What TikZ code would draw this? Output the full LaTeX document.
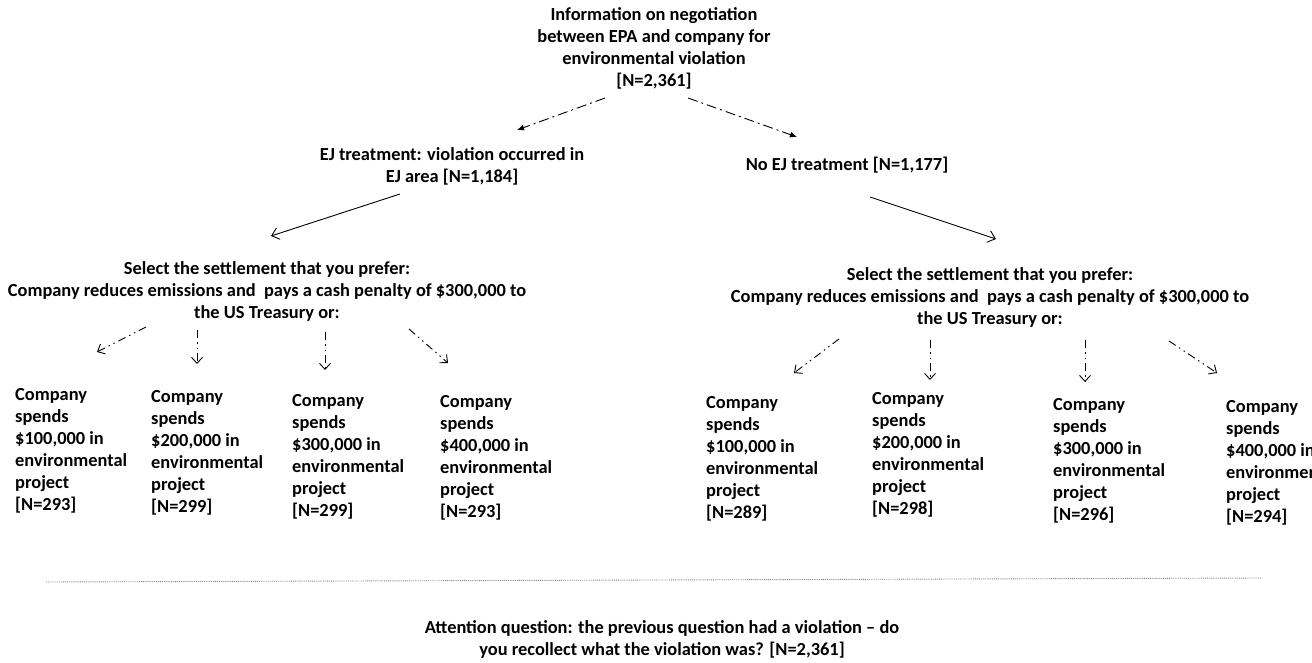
\documentclass[tikz,border=0pt]{standalone}
\usepackage{fontspec}
\setmainfont{Carlito}
\usetikzlibrary{arrows.meta}
\begin{document}
\begin{tikzpicture}[x=1pt,y=-1pt,
  txt/.style={font=\bfseries\fontsize{18.4}{22}\selectfont, inner sep=0pt},
  ctr/.style={txt, align=center, anchor=north},
  col/.style={txt, align=left, anchor=north west},
  topar/.style={-{Latex[length=7pt,width=6pt]}, line width=0.9pt, dash pattern=on 10pt off 4pt on 2pt off 4pt},
  mainar/.style={-{Straight Barb[length=7pt,width=12pt]}, line width=0.9pt},
  smallar/.style={-{Straight Barb[length=6pt,width=11pt]}, line width=0.9pt, dash pattern=on 8pt off 4pt on 1.5pt off 4pt on 1.5pt off 4pt},
  sep/.style={gray, line width=0.9pt, densely dotted}]
\useasboundingbox (0,0) rectangle (1312,663);
\clip (0,0) rectangle (1312,663);

% texts
\node[ctr] (info) at (654,7) {Information on negotiation\\between EPA and company for\\environmental violation\\{[N=2,361]}};
\node[ctr] (ej) at (452,147) {EJ treatment: violation occurred in\\EJ area [N=1,184]};
\node[ctr] (noej) at (847,157) {No EJ treatment [N=1,177]};
\node[ctr] (selL) at (267,261) {Select the settlement that you prefer:\\Company reduces emissions and\ \ pays a cash penalty of \$300,000 to\\the US Treasury or:};
\node[ctr] (selR) at (990,267) {Select the settlement that you prefer:\\Company reduces emissions and\ \ pays a cash penalty of \$300,000 to\\the US Treasury or:};

\node[col] (l1) at (15,388) {Company\\spends\\\$100,000 in\\environmental\\project\\{[N=293]}};
\node[col] (l2) at (151,390) {Company\\spends\\\$200,000 in\\environmental\\project\\{[N=299]}};
\node[col] (l3) at (292,394) {Company\\spends\\\$300,000 in\\environmental\\project\\{[N=299]}};
\node[col] (l4) at (440,395) {Company\\spends\\\$400,000 in\\environmental\\project\\{[N=293]}};
\node[col] (r1) at (706,396) {Company\\spends\\\$100,000 in\\environmental\\project\\{[N=289]}};
\node[col] (r2) at (872,392) {Company\\spends\\\$200,000 in\\environmental\\project\\{[N=298]}};
\node[col] (r3) at (1053,398) {Company\\spends\\\$300,000 in\\environmental\\project\\{[N=296]}};
\node[col] (r4) at (1226,400) {Company\\spends\\\$400,000 in\\environmental\\project\\{[N=294]}};

\node[ctr] (att) at (662,620) {Attention question: the previous question had a violation -- do\\you recollect what the violation was? [N=2,361]};

% arrow end points
\coordinate (a1s) at (605,98);  \coordinate (a1e) at (517,130);
\coordinate (a2s) at (688,98);  \coordinate (a2e) at (797,137);
\coordinate (b1s) at (400,194); \coordinate (b1e) at (271,236);
\coordinate (b2s) at (870,197); \coordinate (b2e) at (996,239);
\coordinate (c1s) at (146,327); \coordinate (c1e) at (97,352);
\coordinate (c2s) at (197,330); \coordinate (c2e) at (197,364);
\coordinate (c3s) at (325,332); \coordinate (c3e) at (325,370);
\coordinate (c4s) at (409,329); \coordinate (c4e) at (448,363);
\coordinate (d1s) at (839,339); \coordinate (d1e) at (794,373);
\coordinate (d2s) at (930,340); \coordinate (d2e) at (930,380);
\coordinate (d3s) at (1085,340); \coordinate (d3e) at (1085,382);
\coordinate (d4s) at (1169,341); \coordinate (d4e) at (1217,373);
\coordinate (sepL) at (46,582); \coordinate (sepR) at (1261,578);

\draw[topar] (a1s) -- (a1e);
\draw[topar] (a2s) -- (a2e);
\draw[mainar] (b1s) -- (b1e);
\draw[mainar] (b2s) -- (b2e);
\foreach \p in {c1,c2,c3,c4,d1,d2,d3,d4}{\draw[smallar] (\p s) -- (\p e);}
\draw[sep] (sepL) -- (sepR);
\end{tikzpicture}
\end{document}
